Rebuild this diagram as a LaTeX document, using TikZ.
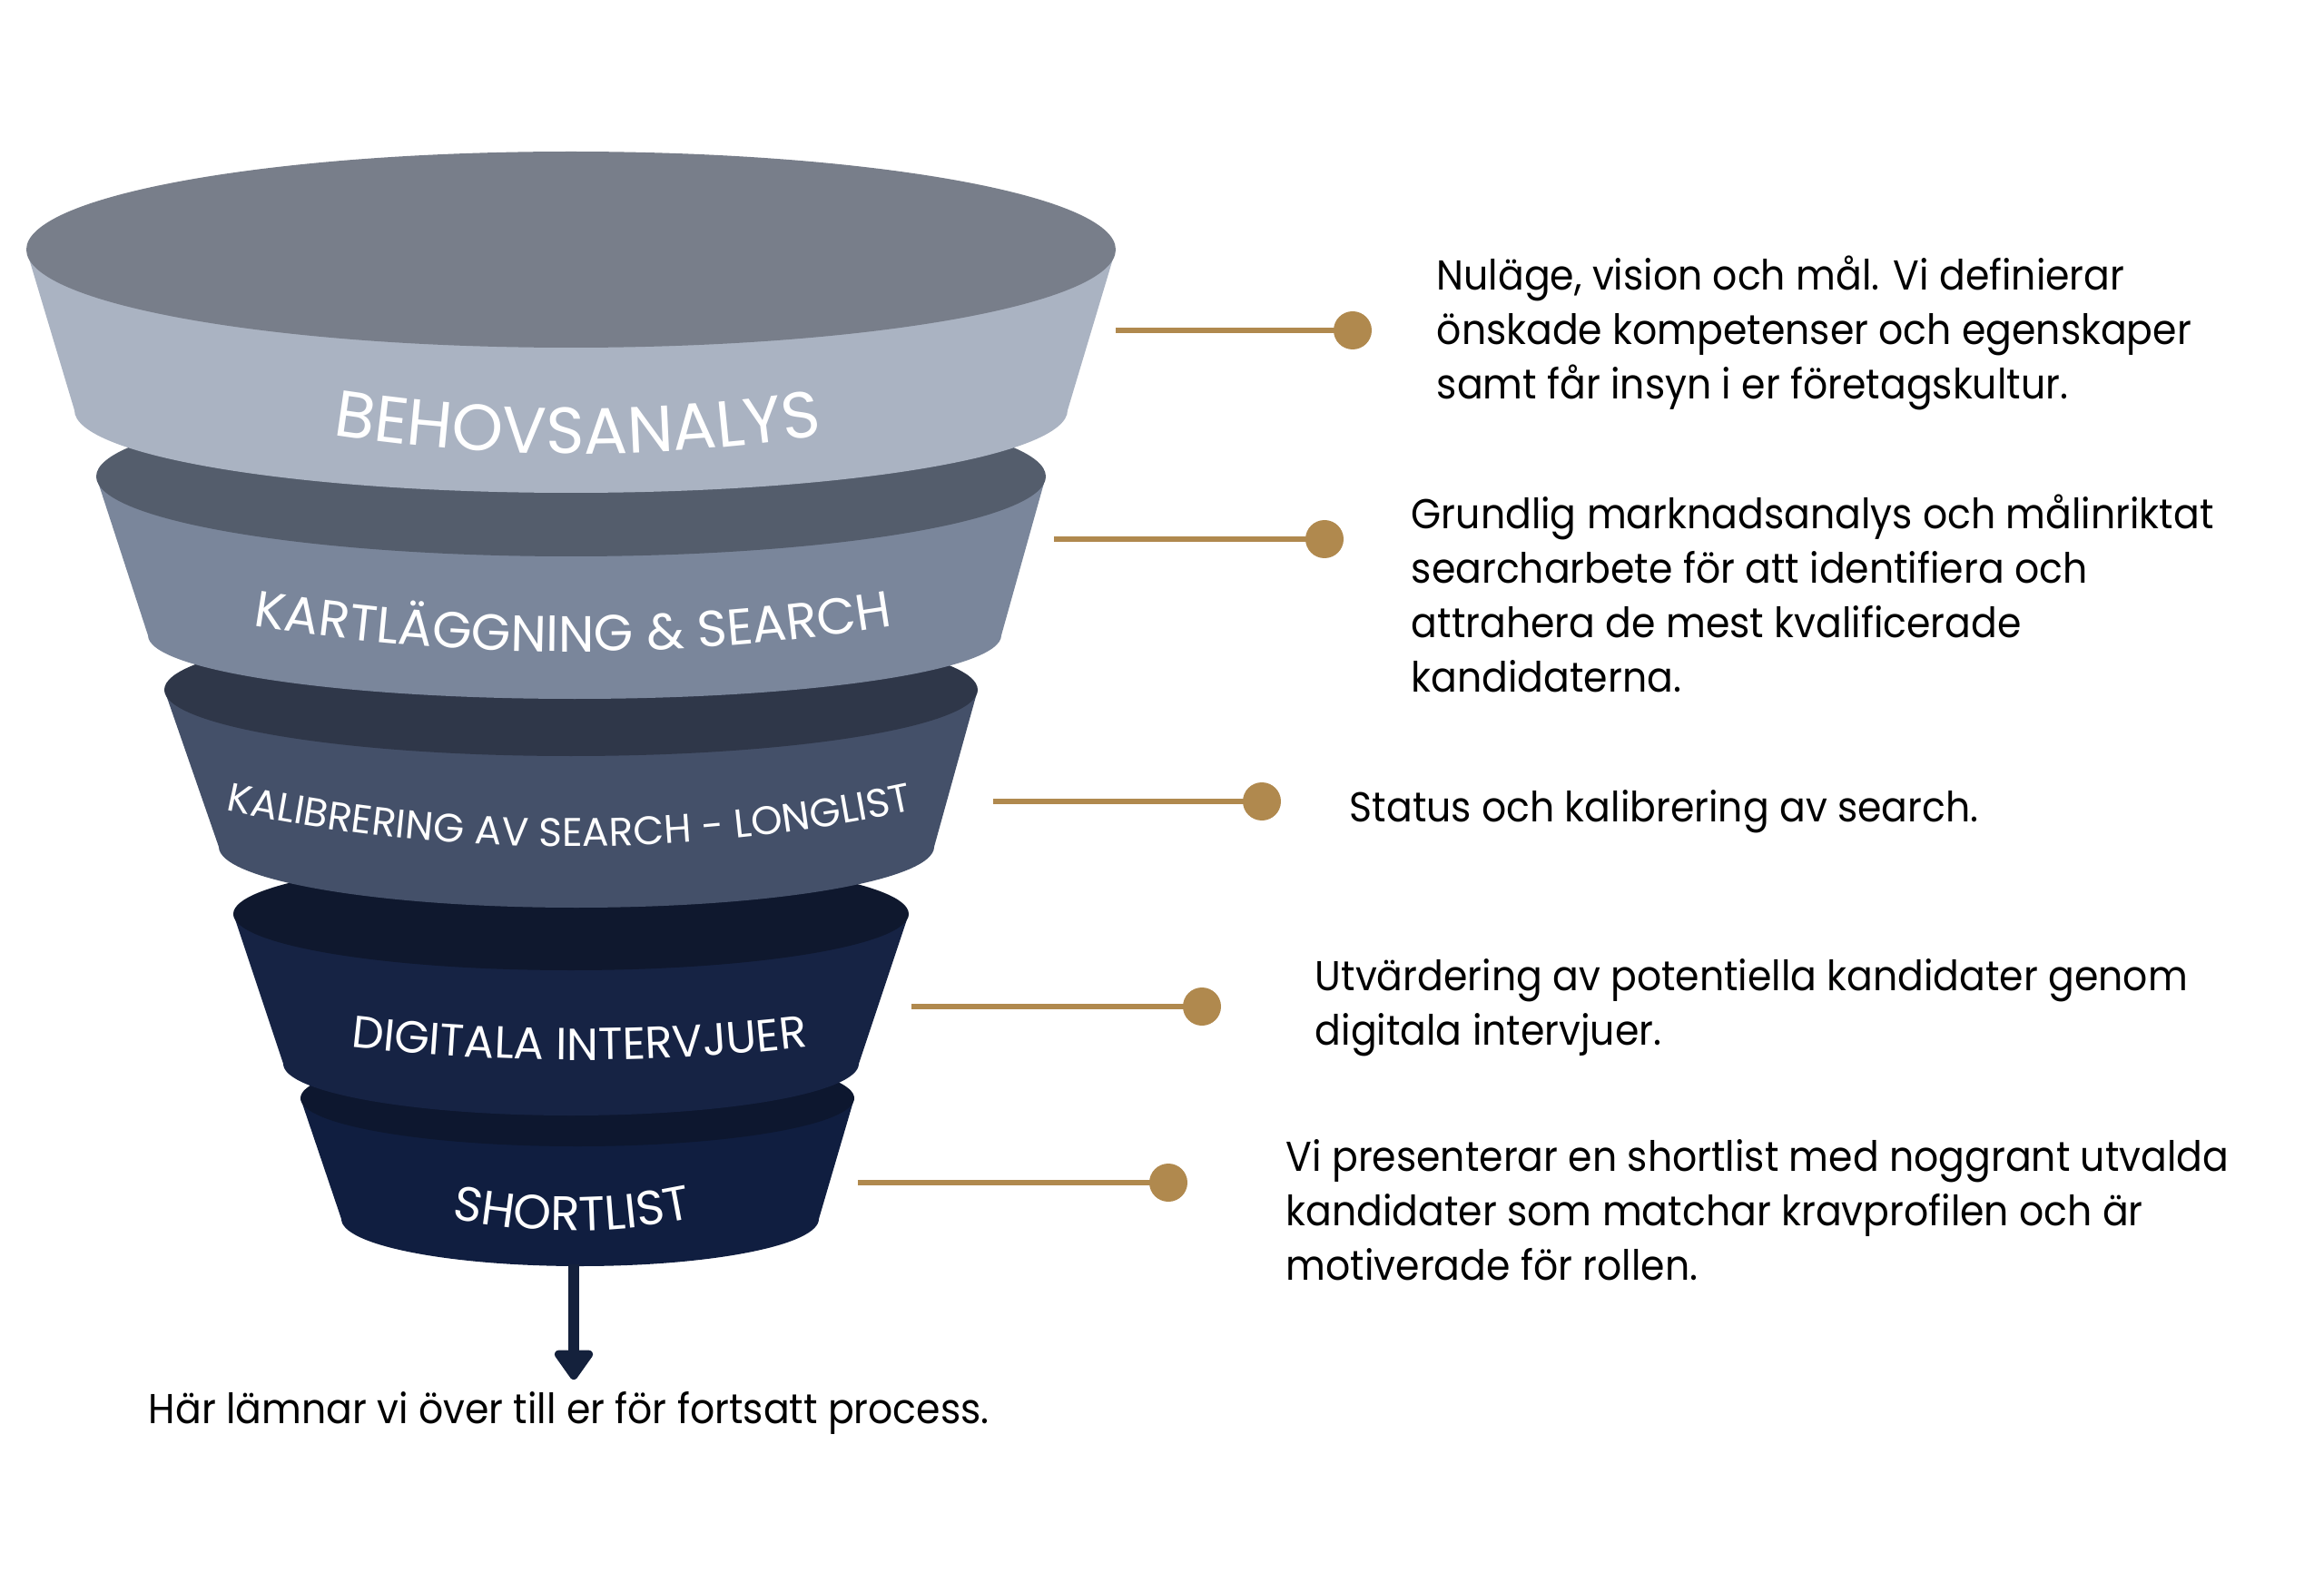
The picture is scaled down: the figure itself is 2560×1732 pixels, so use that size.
\documentclass[tikz,border=0pt]{standalone}
\usepackage{fontspec}
\setmainfont{Poppins}
\newfontfamily\bodyfont[FakeStretch=0.925]{Poppins}
\usetikzlibrary{decorations.text,arrows.meta}
\definecolor{gold}{HTML}{B0894E}
\definecolor{navyarrow}{HTML}{14213C}
\definecolor{sideA}{HTML}{AAB3C2}
\definecolor{topA}{HTML}{787E8A}
\definecolor{sideB}{HTML}{7A869B}
\definecolor{topB}{HTML}{545D6C}
\definecolor{sideC}{HTML}{445069}
\definecolor{topC}{HTML}{2F3749}
\definecolor{sideD}{HTML}{162344}
\definecolor{topD}{HTML}{0F182E}
\definecolor{sideE}{HTML}{101E40}
\definecolor{topE}{HTML}{0D172F}
% #1 cxT #2 cyT #3 rxT #4 ryT #5 cxB #6 cyB #7 rxB #8 ryB #9 id
\newcommand\funnelstage[9]{%
  \fill[side#9] (#1-#3,-#2) -- (#5-#7,-#6) -- (#5+#7,-#6) -- (#1+#3,-#2) -- cycle;
  \fill[side#9] (#5,-#6) ellipse [x radius=#7, y radius=#8];
  \fill[top#9] (#1,-#2) ellipse [x radius=#3, y radius=#4];
}
% #1 cx #2 baseline y (px) #3 radius #4 half angle #5 font size #6 text
\newcommand\stagelabel[6]{%
  \path[decorate, decoration={text along path, text align=center,
     text={|\fontsize{#5}{#5}\selectfont\color{white}|#6}}]
     ([shift={(270-#4:#3)}]#1,-#2+#3) arc[start angle=270-#4, end angle=270+#4, radius=#3];
}
\tikzset{
  desc/.style={anchor=base west, inner sep=0pt, text=black,
     font=\bodyfont\fontsize{11.5}{15}\selectfont},
  conn/.style={draw=gold, line width=1.6pt},
  dot/.style={circle, fill=gold, minimum size=10.5pt, inner sep=0pt},
  flow/.style={draw=navyarrow, line width=3.1pt, shorten >=3pt,
     -{Triangle[width=12pt,length=9pt,round]}}
}
\begin{document}
\begin{tikzpicture}[x=0.25pt,y=0.25pt]
\useasboundingbox (0,0) rectangle (2560,-1732);
\fill[white] (0,0) rectangle (2560,-1732);

% funnel, bottom stage first
\funnelstage{636}{1210}{305}{53}{639}{1343}{263}{52}{E}
\funnelstage{629}{1007}{372}{62}{629}{1172}{317}{57}{D}
\funnelstage{629}{760}{448}{73}{635}{933}{394}{67}{C}
\funnelstage{629}{525}{523}{88}{633}{700}{470}{70}{B}
\funnelstage{629}{275}{600}{108}{629}{452}{547}{91}{A}

% stage labels
\stagelabel{636}{500}{1750}{14}{18}{BEHOVSANALYS}
\stagelabel{631}{718}{2200}{12}{14}{KARTLÄGGNING {\&} SEARCH}
\stagelabel{627}{933}{1800}{15}{11}{KALIBRERING AV SEARCH - LONGLIST}
\stagelabel{638}{1168}{2185}{9}{12.4}{DIGITALA INTERVJUER}
\stagelabel{630}{1356}{640}{17}{13.3}{SHORTLIST}

% connectors and dots
\coordinate (c1) at (1229,-364);
\coordinate (c2) at (1161,-594);
\coordinate (c3) at (1094,-883);
\coordinate (c4) at (1004,-1109);
\coordinate (c5) at (945,-1303);
\node[dot] (d1) at (1490,-364) {};
\node[dot] (d2) at (1459,-594) {};
\node[dot] (d3) at (1390,-883) {};
\node[dot] (d4) at (1324,-1109) {};
\node[dot] (d5) at (1287,-1303) {};
\draw[conn] (c1) -- (d1.center);
\draw[conn] (c2) -- (d2.center);
\draw[conn] (c3) -- (d3.center);
\draw[conn] (c4) -- (d4.center);
\draw[conn] (c5) -- (d5.center);

% descriptions
\node[desc] (t1) at (1582,-320) {\begin{tabular}[t]{@{}l@{}}Nuläge, vision och mål. Vi definierar\\önskade kompetenser och egenskaper\\samt får insyn i er företagskultur.\end{tabular}};
\node[desc] (t2) at (1554,-583) {\begin{tabular}[t]{@{}l@{}}Grundlig marknadsanalys och målinriktat\\searcharbete för att identifiera och\\attrahera de mest kvalificerade\\kandidaterna.\end{tabular}};
\node[desc] (t3) at (1486,-905) {Status och kalibrering av search.};
\node[desc] (t4) at (1448,-1091) {\begin{tabular}[t]{@{}l@{}}Utvärdering av potentiella kandidater genom\\digitala intervjuer.\end{tabular}};
\node[desc] (t5) at (1416,-1290) {\begin{tabular}[t]{@{}l@{}}Vi presenterar en shortlist med noggrant utvalda\\kandidater som matchar kravprofilen och är\\motiverade för rollen.\end{tabular}};

% hand-off
\node[desc] (handoff) at (163,-1568) {Här lämnar vi över till er för fortsatt process.};
\coordinate (slbot) at (632,-1393);
\draw[flow] (slbot) -- (slbot |- handoff.north);
\end{tikzpicture}
\end{document}
